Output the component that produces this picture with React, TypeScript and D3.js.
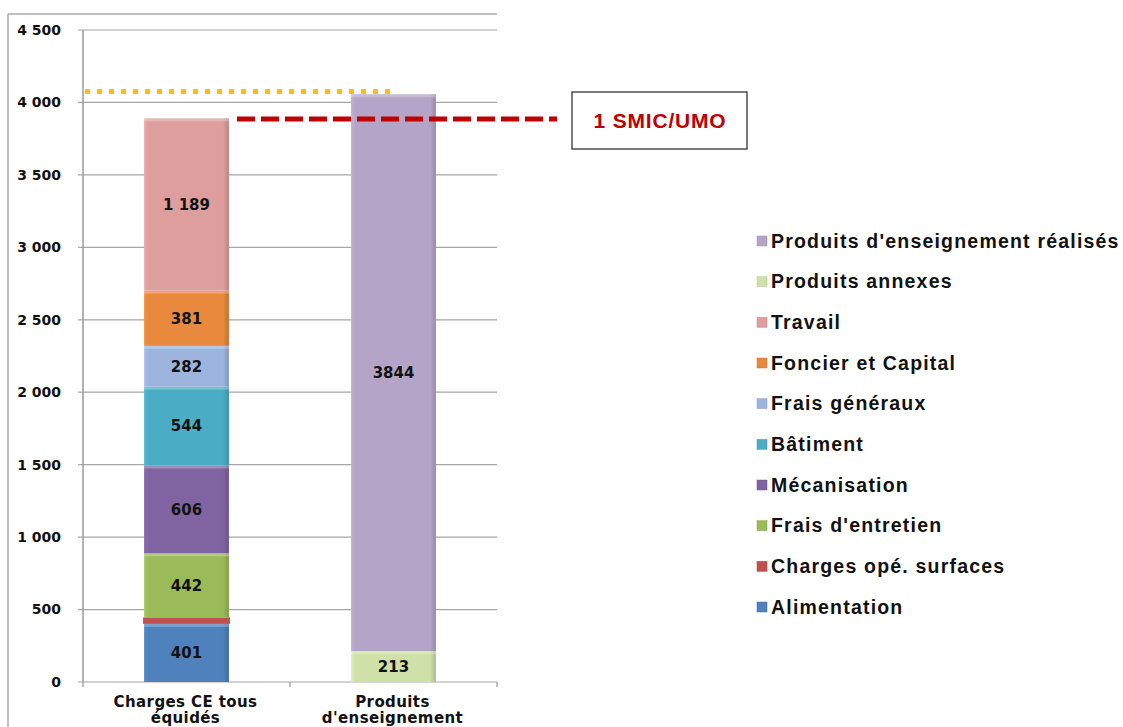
import React from 'react';
import * as d3 from 'd3';

// chart data
const categories = ['Charges CE tous|équidés', "Produits|d'enseignement"];
const seriesNames = [
  'Alimentation',
  'Charges opé. surfaces',
  "Frais d'entretien",
  'Mécanisation',
  'Bâtiment',
  'Frais généraux',
  'Foncier et Capital',
  'Travail',
  'Produits annexes',
  "Produits d'enseignement réalisés",
];
const chargesValues = [401, 45, 442, 606, 544, 282, 381, 1189, 0, 0];
const produitsValues = [0, 0, 0, 0, 0, 0, 0, 0, 213, 3844];
const seriesColors = [
  '#4F81BD', '#C0504D', '#9BBB59', '#8064A2', '#4BACC6',
  '#9DB4DE', '#E8893E', '#DE9E9D', '#CFE0A8', '#B4A5C8',
];
const hiddenLabels = ['Charges opé. surfaces'];
const yTicks = [0, 500, 1000, 1500, 2000, 2500, 3000, 3500, 4000, 4500];
const smicLevel = 3885;
const yellowLevel = 4075;

const fmtSpaced = (v: number) => d3.format(',')(v).replace(/,/g, ' ');
const fmtPlain = (v: number) => d3.format('d')(v);

export default function App() {
  const W = 1123;
  const H = 727;
  const left = 83;
  const right = 497;
  const y = d3.scaleLinear().domain([0, 4500]).range([682, 30]);
  const x = d3.scaleBand().domain(categories).range([left, right]).padding(0);
  const barW = x.bandwidth() * 0.41;

  const rows = categories.map((c, i) => {
    const vals = i === 0 ? chargesValues : produitsValues;
    const r: any = { cat: c };
    seriesNames.forEach((s, j) => (r[s] = vals[j]));
    return r;
  });
  const stacked = d3.stack().keys(seriesNames)(rows);
  const color = d3.scaleOrdinal<string>().domain(seriesNames).range(seriesColors);

  const font = '"Liberation Sans", Arial, sans-serif';
  const heavy = '"DejaVu Sans", sans-serif';
  const legendRows = [...seriesNames].reverse();
  const legendY = d3.scalePoint().domain(legendRows).range([241, 607]);

  return (
    <svg width={W} height={H} style={{ position: 'absolute', left: 0, top: 0 }} fontFamily={font}>
      <defs>
        {seriesNames.map((s, i) => {
          const c = d3.color(color(s))!;
          return (
            <linearGradient key={s} id={`g${i}`} x1="0" x2="1" y1="0" y2="0">
              <stop offset="0" stopColor={c.brighter(0.2).toString()} />
              <stop offset="0.05" stopColor={c.toString()} />
              <stop offset="0.93" stopColor={c.toString()} />
              <stop offset="1" stopColor={c.darker(0.5).toString()} />
            </linearGradient>
          );
        })}
      </defs>
      {/* frame */}
      <line x1={8} x2={497} y1={14} y2={14} stroke="#aaa" strokeWidth={1.5} />
      <line x1={8} x2={8} y1={14} y2={H} stroke="#aaa" strokeWidth={1.5} />

      {/* grid + y axis */}
      {yTicks.map((t) => (
        <g key={t}>
          <line x1={left - 5} x2={right} y1={y(t)} y2={y(t)} stroke="#a6a6a6" strokeWidth={1.2} />
          <text x={61} y={y(t)} dy="0.35em" textAnchor="end" fontSize={14} fontWeight="bold" fill="#111" fontFamily={heavy}>
            {fmtSpaced(t)}
          </text>
        </g>
      ))}
      <line x1={left} x2={left} y1={y(4500)} y2={y(0)} stroke="#999" strokeWidth={1.5} />
      {[left, left + x.step(), right].map((tx, i) => (
        <line key={i} x1={tx} x2={tx} y1={y(0)} y2={y(0) + 5} stroke="#999" strokeWidth={1.2} />
      ))}

      {/* yellow dotted level */}
      <line x1={85} x2={390} y1={y(yellowLevel)} y2={y(yellowLevel)} stroke="#FFC000" strokeWidth={5} strokeDasharray="5 7" />

      {/* bars */}
      {stacked.map((layer, li) =>
        layer.map((d, di) => {
          const v = d[1] - d[0];
          if (v <= 0) return null;
          const cat = categories[di];
          const name = layer.key;
          const hidden = hiddenLabels.includes(name);
          const w = hidden ? barW + 2 : barW;
          const bx = x(cat)! + x.bandwidth() / 2 - w / 2;
          const y0 = y(d[0]);
          const y1 = y(d[1]);
          return (
            <g key={`${li}-${di}`}>
              <rect x={bx} y={y1} width={w} height={y0 - y1} fill={hidden ? color(name) : `url(#g${li})`} />
              {!hidden && <rect x={bx} y={y1} width={w} height={Math.min(3, y0 - y1)} fill="#fff" opacity={0.25} />}
              {!hidden && (
                <text x={bx + w / 2} y={(y0 + y1) / 2} dy="0.35em" textAnchor="middle" fontSize={15} fontWeight="bold" fill="#111" fontFamily={heavy}>
                  {di === 0 ? fmtSpaced(v) : fmtPlain(v)}
                </text>
              )}
            </g>
          );
        })
      )}

      {/* red dashed SMIC line */}
      <line x1={237} x2={557} y1={y(smicLevel)} y2={y(smicLevel)} stroke="#C00000" strokeWidth={5} strokeDasharray="18 6" />

      {/* SMIC box */}
      <rect x={572} y={92} width={175} height={57} fill="#fff" stroke="#333" strokeWidth={1.3} />
      <text x={660} y={121} dy="0.35em" textAnchor="middle" fontSize={21} fontWeight="bold" fill="#C00000" letterSpacing={0.8}>
        1 SMIC/UMO
      </text>

      {/* x labels */}
      {categories.map((c) => (
        <text key={c} x={x(c)! + x.bandwidth() / 2} y={707} textAnchor="middle" fontSize={15} fontWeight="bold" fill="#111" fontFamily={heavy} letterSpacing={0.4}>
          {c.split('|').map((line, i) => (
            <tspan key={i} x={x(c)! + x.bandwidth() / 2 - 1} dy={i === 0 ? 0 : 16}>
              {line}
            </tspan>
          ))}
        </text>
      ))}

      {/* legend */}
      {legendRows.map((s) => {
        const ly = legendY(s)!;
        const i = seriesNames.indexOf(s);
        return (
          <g key={s}>
            <rect x={757} y={ly - 5} width={10} height={10} fill={`url(#g${i})`} stroke={d3.color(color(s))!.darker(0.3).toString()} strokeWidth={0.5} />
            <text x={771} y={ly} dy="0.35em" fontSize={19.5} fontWeight="bold" fill="#111" letterSpacing={1.2}>
              {s}
            </text>
          </g>
        );
      })}
    </svg>
  );
}
